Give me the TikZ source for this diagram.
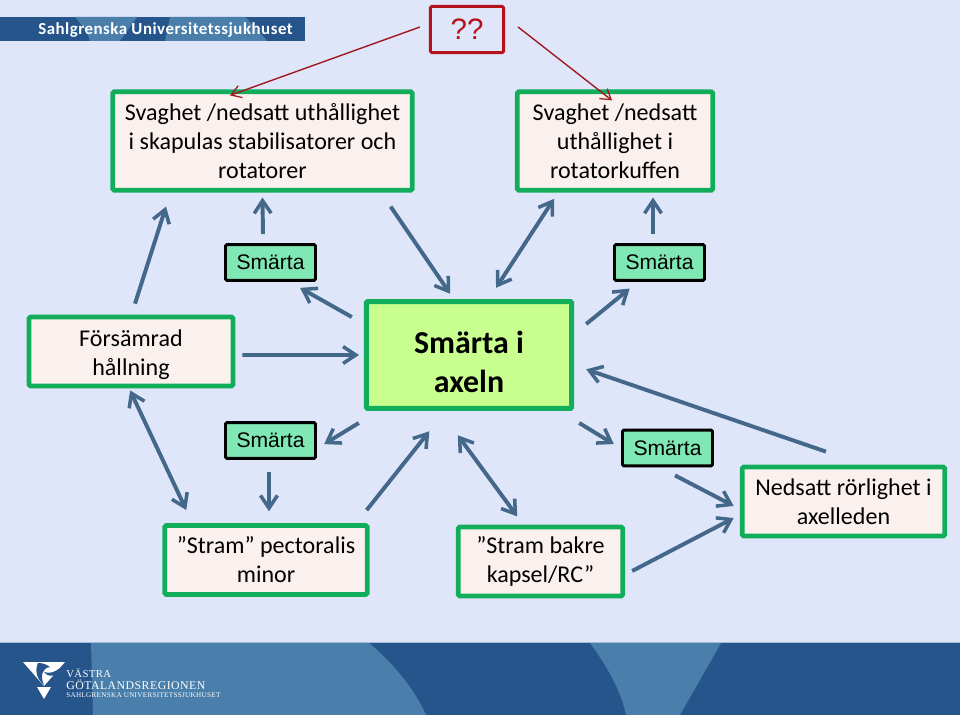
\documentclass[tikz,border=0pt]{standalone}
\usepackage{fontspec}
\setmainfont{Carlito}
\newfontfamily\arialfont{Liberation Sans}
\newfontfamily\logofont[LetterSpace=4]{Liberation Serif}
\newfontfamily\titlefont[LetterSpace=3]{Carlito}
\usepackage{xcolor}
\usetikzlibrary{calc,arrows.meta}
\definecolor{slidebg}{HTML}{E0E6FA}
\definecolor{banddark}{HTML}{25558A}
\definecolor{bandlight}{HTML}{4A7EAB}
\definecolor{boxgreen}{HTML}{12AD5A}
\definecolor{boxfill}{HTML}{FAF1EE}
\definecolor{painfill}{HTML}{7FE8B5}
\definecolor{centrefill}{HTML}{C8FF8E}
\definecolor{flowblue}{HTML}{44688A}
\definecolor{alertred}{HTML}{B5121B}
\definecolor{queryred}{HTML}{A01A20}
\tikzset{
  factor/.style={draw=boxgreen,fill=boxfill,line width=3.4pt,rounded corners=1pt,align=center,inner sep=0pt,
    font=\fontsize{17.1}{20.6}\selectfont,text=black},
  pain/.style={draw=black,fill=painfill,line width=2.1pt,rounded corners=1pt,minimum width=64pt,minimum height=25.5pt,
    inner sep=0pt,font=\arialfont\fontsize{15}{18}\selectfont},
  centre/.style={draw=boxgreen,fill=centrefill,line width=3.6pt,rounded corners=1pt,align=center,inner sep=0pt,
    font=\bfseries\fontsize{22.7}{27.6}\selectfont},
  flow/.style={-{Straight Barb[length=9pt,width=12pt,line width=2.5pt]},draw=flowblue,line width=2.8pt,shorten >=-1.5pt},
  bothflow/.style={flow,{Straight Barb[length=9pt,width=12pt,line width=2.5pt]}-{Straight Barb[length=9pt,width=12pt,line width=2.5pt]},shorten <=-1.5pt},
  query/.style={-{Straight Barb[length=7pt,width=9pt,line width=.9pt]},draw=queryred,line width=1pt}
}
\begin{document}
\begin{tikzpicture}[x=0.025cm,y=-0.025cm]
  \useasboundingbox (0,0) rectangle (960,715);
  \fill[slidebg] (0,0) rectangle (960,715);
  % header band
  \fill[banddark] (0,17) rectangle (305,41);
  \fill[bandlight] (75,17) -- (137,17) -- (120,41) -- (90,41) .. controls (87,31) and (81,24) .. (75,17) -- cycle;
  \fill[bandlight] (165,41) -- (170,17) -- (245,17) .. controls (252,24) and (260,32) .. (267,41) -- cycle;
  \node[text=white,font=\titlefont\bfseries\fontsize{12}{14}\selectfont,anchor=west,inner sep=0pt] (title) at (38,30) {Sahlgrenska Universitetssjukhuset};
  % footer band
  \fill[banddark] (0,643) rectangle (960,715);
  \fill[bandlight] (91,643) -- (369,643) .. controls (395,665) and (415,690) .. (426,715) -- (93,715) -- cycle;
  \fill[bandlight] (590,643) -- (721,643) -- (680,715) -- (626,715) .. controls (621,690) and (606,665) .. (590,643) -- cycle;
  \draw[slidebg!60!bandlight,line width=.8pt] (0,642.5) -- (960,642.5);
  % logo
  \fill[white] (23,662) -- (65,662) -- (44,686) -- cycle;
  \fill[banddark] (38,663) .. controls (34,672) and (38,680) .. (44,685) .. controls (40,676) and (42,668) .. (50,667) .. controls (46,664) and (42,663) .. (38,663) -- cycle;
  \fill[banddark] (44,672) .. controls (50,674) and (55,672) .. (60,668) .. controls (56,676) and (50,679) .. (44,672) -- cycle;
  \fill[white] (37,687) -- (51,687) -- (44,699) -- cycle;
  \node[text=white,font=\logofont\fontsize{7.6}{9}\selectfont,anchor=west,inner sep=0pt] (vastra) at (66,673) {VÄSTRA};
  \node[text=white,font=\logofont\fontsize{8.4}{11}\selectfont,anchor=west,inner sep=0pt] (region) at (66,684.5) {GÖTALANDSREGIONEN};
  \node[text=white,font=\logofont\fontsize{5.1}{7}\selectfont,anchor=west,inner sep=0pt] (sahl) at (66,695.5) {SAHLGRENSKA UNIVERSITETSSJUKHUSET};
  % boxes
  \node[draw=alertred,line width=2.1pt,rounded corners=1pt,minimum width=52pt,minimum height=33pt,inner sep=0pt,text=alertred,
    font=\arialfont\fontsize{21}{25}\selectfont] (unknown) at (467,29.5) {??};
  \node[factor,minimum width=213pt,minimum height=70pt] (stab) at (262.5,141)
    {Svaghet /nedsatt uthållighet\\i skapulas stabilisatorer och\\rotatorer};
  \node[factor,minimum width=139pt,minimum height=70pt] (kuff) at (615,141)
    {Svaghet /nedsatt\\uthållighet i\\rotatorkuffen};
  \node[pain] (smartaA) at (270.5,262.5) {Smärta};
  \node[pain] (smartaB) at (659.5,262.5) {Smärta};
  \node[pain] (smartaC) at (270.5,440.5) {Smärta};
  \node[pain] (smartaD) at (667.5,448) {Smärta};
  \node[factor,minimum width=145pt,minimum height=49pt] (hallning) at (131,351.5) {\rule{0pt}{16pt}Försämrad\\hållning};
  \node[centre,minimum width=146pt,minimum height=76pt] (axeln) at (469,355) {\rule{0pt}{26pt}Smärta i\\axeln};
  \node[factor,minimum width=144pt,minimum height=49pt] (pectoralis) at (266,560) {”Stram” pectoralis\\minor};
  \node[factor,minimum width=117pt,minimum height=49pt] (kapsel) at (540.5,561.5) {”Stram bakre\\kapsel/RC”};
  \node[factor,minimum width=144pt,minimum height=49pt] (rorlighet) at (843.5,501.5) {Nedsatt rörlighet i\\axelleden};
  % arrows
  \draw[query] ([shift={(-9,-2.5)}]unknown.west) -- ([shift={(-32.5,6)}]stab.north);
  \draw[query] ([shift={(13,-2.5)}]unknown.east) -- ([shift={(-3,11)}]kuff.north);
  \draw[flow] ([shift={(4,-11)}]hallning.north) -- ([shift={(55,16)}]stab.south west);
  \draw[flow] ([shift={(-7.5,-9)}]smartaA.north) -- ([shift={(0,7)}]stab.south);
  \draw[flow] ([shift={(-24,14)}]stab.south east) -- ([shift={(-20,-7)}]axeln.north);
  \draw[bothflow] ([shift={(-77,-13)}]axeln.north east) -- ([shift={(38,8)}]kuff.south west);
  \draw[flow] ([shift={(-6.5,-9)}]smartaB.north) -- ([shift={(38,7)}]kuff.south);
  \draw[flow] ([shift={(-12,18)}]axeln.north west) -- ([shift={(-15,7)}]smartaA.south east);
  \draw[flow] ([shift={(12,25)}]axeln.north east) -- ([shift={(15,8)}]smartaB.south west);
  \draw[flow] ([shift={(7,3.5)}]hallning.east) -- ([shift={(-7,0)}]axeln.west);
  \draw[flow] ([shift={(-17.5,-13)}]rorlighet.north) -- ([shift={(14,15)}]axeln.east);
  \draw[flow] ([shift={(-5,12)}]axeln.south west) -- ([shift={(9,2.5)}]smartaC.east);
  \draw[flow] ([shift={(5,12)}]axeln.south east) -- ([shift={(-9,-5)}]smartaD.west);
  \draw[bothflow] ([shift={(0,4)}]hallning.south) -- ([shift={(23,-15)}]pectoralis.north west);
  \draw[flow] ([shift={(-1.5,12)}]smartaC.south) -- ([shift={(3,-14)}]pectoralis.north);
  \draw[flow] ([shift={(-3,-13)}]pectoralis.north east) -- ([shift={(-41,22)}]axeln.south);
  \draw[bothflow] ([shift={(-10,26)}]axeln.south) -- ([shift={(-24.5,-10)}]kapsel.north);
  \draw[flow] ([shift={(7.5,8)}]smartaD.south) -- ([shift={(-8,3.5)}]rorlighet.west);
  \draw[flow] ([shift={(7,9.5)}]kapsel.east) -- ([shift={(-8,17.5)}]rorlighet.west);
\end{tikzpicture}
\end{document}
